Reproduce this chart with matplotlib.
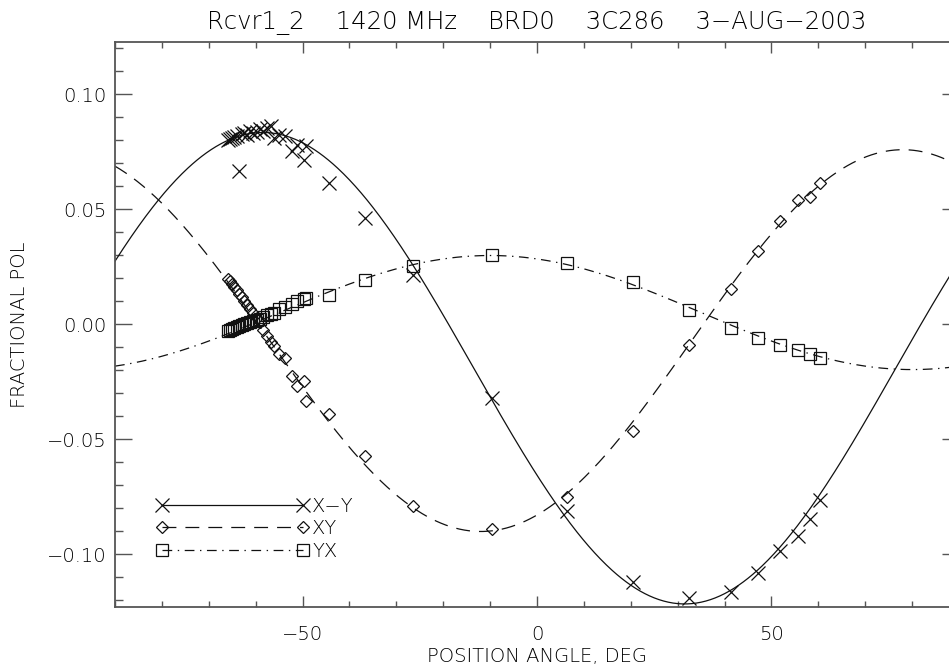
import numpy as np
import matplotlib
matplotlib.use('Agg')
from matplotlib import pyplot as plt
from matplotlib.lines import Line2D
from matplotlib.ticker import MultipleLocator, FuncFormatter

# position angle of each scan (deg)
pa = [-65.9, -65.5, -65.1, -64.6, -64.0, -63.5, -63.0, -62.4, -61.8, -61.2,
      -60.5, -59.8, -59.1, -58.4, -57.6, -56.8, -56.0, -55.0, -53.8, -52.3,
      -51.2, -49.8, -49.3, -44.3, -36.7, -26.4, -9.6, 6.4, 20.5, 32.4,
      41.4, 47.1, 51.8, 55.7, 58.2, 60.3]

# fractional polarisation, X-Y
pol_xmy = [0.0800, 0.0808, 0.0812, 0.0815, 0.0820, 0.0667, 0.0828, 0.0832, 0.0826, 0.0840,
           0.0833, 0.0838, 0.0848, 0.0842, 0.0855, 0.0865, 0.0812, 0.0826, 0.0819, 0.0754,
           0.0780, 0.0717, 0.0775, 0.0616, 0.0462, 0.0217, -0.0319, -0.0810, -0.1120, -0.1190,
           -0.1165, -0.1080, -0.0986, -0.0920, -0.0845, -0.0764]

# XY
pol_xy = [0.0196, 0.0188, 0.0178, 0.0165, 0.0148, 0.0132, 0.0118, 0.0102, 0.0085, 0.0068,
          0.0048, 0.0030, 0.0010, -0.0025, -0.0050, -0.0075, -0.0095, -0.0130, -0.0145, -0.0225,
          -0.0268, -0.0246, -0.0333, -0.0387, -0.0570, -0.0790, -0.0890, -0.0750, -0.0464, -0.0087,
          0.0155, 0.0319, 0.0449, 0.0540, 0.0553, 0.0616]

# YX
pol_yx = [-0.0030, -0.0025, -0.0020, -0.0016, -0.0012, -0.0008, -0.0002, 0.0002, 0.0006, 0.0010,
          0.0014, 0.0020, 0.0026, 0.0034, 0.0040, 0.0046, 0.0052, 0.0068, 0.0078, 0.0090,
          0.0101, 0.0109, 0.0115, 0.0130, 0.0193, 0.0254, 0.0300, 0.0268, 0.0186, 0.0065,
          -0.0014, -0.0059, -0.0091, -0.0112, -0.0130, -0.0145]

# fitted 2*PA sinusoids: offset, amplitude, PA of maximum
fit_xmy = [-0.0190, 0.1025, -58.5]
fit_xy = [-0.0070, 0.0830, 78.0]
fit_yx = [0.0052, 0.0248, -10.0]

labels = ['X\u2212Y', 'XY', 'YX']
title = 'Rcvr1_2    1420 MHz    BRD0    3C286    3\u2212AUG\u22122003'

plt.rcParams['font.family'] = 'DejaVu Sans'
plt.rcParams['font.weight'] = 'light'
plt.rcParams['axes.titleweight'] = 'light'
plt.rcParams['axes.labelweight'] = 'light'
plt.rcParams['lines.scale_dashes'] = False
ink = '#111111'
txt = '#000000'
axcol = '#555555'

def fit_curve(p, x):
    off, amp, pk = p
    return off + amp * np.cos(np.radians(2.0 * (x - pk)))

fig = plt.figure(figsize=(9.49, 6.67), dpi=100)
ax = fig.add_axes([0.1212, 0.0904, 0.8894, 0.8462])

styles = [
    dict(ls='-', marker='x', ms=9.5),
    dict(ls=(0, (10, 6.5)), marker='D', ms=6),
    dict(ls=(0, (7, 4, 1, 4)), marker='s', ms=9),
]

pa_fine = np.linspace(-90, 90, 721)
for vals, fit, st in zip([pol_xmy, pol_xy, pol_yx], [fit_xmy, fit_xy, fit_yx], styles):
    ax.plot(pa_fine, fit_curve(fit, pa_fine), color=ink, lw=0.9, ls=st['ls'])
    ax.plot(pa, vals, ls='none', marker=st['marker'], ms=st['ms'], mfc='none',
            mec=ink, mew=0.9)

handles = [Line2D([], [], color=ink, lw=0.9, ls=st['ls'], marker=st['marker'],
                  ms=st['ms'], mfc='none', mec=ink, mew=0.9) for st in styles]
leg = ax.legend(handles, labels, loc='upper left', bbox_to_anchor=(0.039, 0.2087),
                borderaxespad=0, frameon=False, numpoints=2, handlelength=7.85,
                handletextpad=0.2, labelspacing=0.18, fontsize=14)
for t in leg.get_texts():
    t.set_color(txt)

ax.set_xlim(-90, 90)
ax.set_ylim(-0.1227, 0.1227)
ax.xaxis.set_major_locator(MultipleLocator(50))
ax.xaxis.set_minor_locator(MultipleLocator(10))
ax.yaxis.set_major_locator(MultipleLocator(0.05))
ax.yaxis.set_minor_locator(MultipleLocator(0.01))
ax.yaxis.set_major_formatter(FuncFormatter(lambda v, pos: f'{v:.2f}'.replace('-', '\u2212')))

ax.tick_params(which='both', direction='in', top=True, right=True, colors=axcol,
               labelcolor=txt, labelsize=14, width=1.0)
ax.tick_params(axis='x', which='major', length=7.7, pad=13)
ax.tick_params(axis='x', which='minor', length=4.1)
ax.tick_params(axis='y', which='major', length=11.9, pad=6)
ax.tick_params(axis='y', which='minor', length=5.5)
for s in ax.spines.values():
    s.set_color(axcol)
    s.set_linewidth(1.3)

ax.set_xlabel('POSITION ANGLE, DEG', fontsize=14, color=txt, va='center')
ax.xaxis.set_label_coords(0.5, -0.089)
ax.set_ylabel('FRACTIONAL POL', fontsize=14, color=txt, va='center')
ax.yaxis.set_label_coords(-0.1126, 0.5)
ax.set_title(title, fontsize=17.5, color=txt, pad=9.4)

fig.savefig('out.png', dpi=100)
